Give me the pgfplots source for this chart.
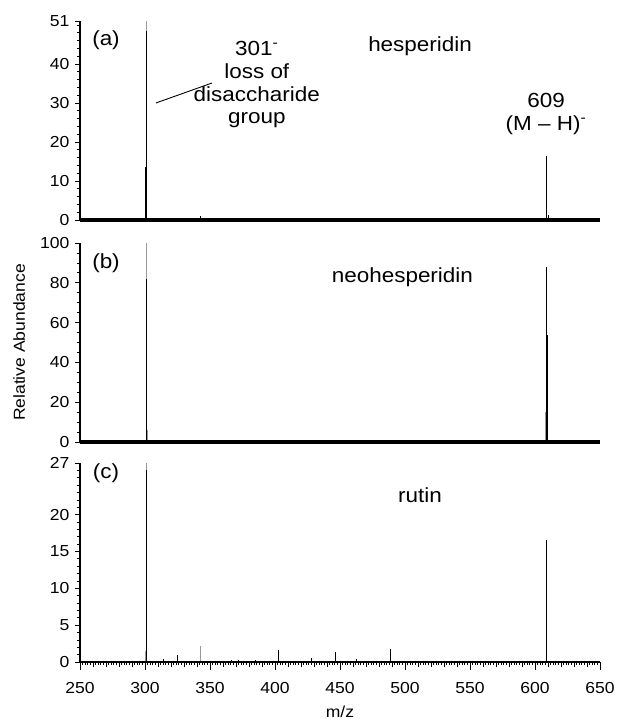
\documentclass[border=0pt]{standalone}
\usepackage{fontspec}
\setmainfont[FakeStretch=1.1]{Liberation Sans}
\usepackage{pgfplots}
\pgfplotsset{compat=1.18}
\pgfplotsset{ms/.style={
  width=520bp, height=199bp, scale only axis,
  xmin=250, xmax=650, ymin=0,
  axis x line*=bottom, axis y line*=left,
  y axis line style={line width=1.1bp, -},
  x axis line style={-},
  tick align=outside,
  major tick length=5bp, minor tick length=3bp,
  every tick/.style={black, line width=0.8bp},
  minor tick style={black, line width=0.7bp},
  clip=false,
  ticklabel style={font=\fontsize{16}{19}\selectfont},
  /pgf/number format/assume math mode=true,
  yticklabel style={xshift=-2bp},
  xticklabel style={yshift=-9bp},
},
stk/.style={ycomb, black, line width=0.9bp, mark=none},
gstk/.style={ycomb, black!40, line width=0.9bp, mark=none},
}
\newcommand{\bigf}{\fontsize{20.5}{23}\selectfont}
\begin{document}
\begin{tikzpicture}
\path[use as bounding box] (-80bp,-62bp) rectangle (537bp,662bp);
% (a) hesperidin
\begin{axis}[ms, at={(0,442bp)}, ymax=51, ytick={0,10,20,30,40,51},
  minor ytick={2,4,...,50}, xtick=\empty]
\addplot[gstk] coordinates {(301,51)};
\addplot[stk] coordinates {(301,48.5) (343,1) (609,16.4) (610,1.2)};
\addplot[stk, line width=1.6bp] coordinates {(300.6,13.5)};
\addplot[black, line width=3.2bp, mark=none, forget plot] coordinates {(250,0) (650,0)};
\node[font=\bigf] at (axis description cs:0.05,0.905) {(a)};
\node[font=\bigf] at (axis description cs:0.654,0.874) {hesperidin};
\node[font=\bigf, align=center] at (axis cs:386,34.7) {301\textsuperscript{-}\\loss of\\disaccharide\\group};
\draw[line width=0.9bp] (axis cs:308.5,30) -- (axis cs:351.5,35.1);
\node[font=\bigf, align=center] at (axis cs:608.5,27.2) {609\\(M -- H)\textsuperscript{-}};
\end{axis}
% (b) neohesperidin
\begin{axis}[ms, at={(0,220bp)}, ymax=100, ytick={0,20,...,100},
  minor ytick={5,10,...,95}, xtick=\empty,
  ylabel={Relative Abundance},
  ylabel style={at={(axis description cs:-0.117,0.5)}, anchor=center, font=\fontsize{16}{19}\selectfont}]
\addplot[gstk] coordinates {(301,100) (302,6) (608.4,15)};
\addplot[stk] coordinates {(301,82) (609,88)};
\addplot[stk, line width=1.6bp] coordinates {(609.3,54)};
\addplot[black, line width=3.2bp, mark=none, forget plot] coordinates {(250,0) (650,0)};
\node[font=\bigf] at (axis description cs:0.05,0.9) {(b)};
\node[font=\bigf] at (axis description cs:0.62,0.83) {neohesperidin};
\end{axis}
% (c) rutin
\begin{axis}[ms, at={(0,0)}, ymax=27, ytick={0,5,10,15,20,27},
  minor ytick={1,2,...,26},
  xtick={250,260,...,650}, xticklabels={},
  minor xtick={252,254,...,648},
  extra x ticks={250,300,...,650},
  extra x tick style={major tick length=8bp},
  xlabel={m/z},
  xlabel style={at={(axis description cs:0.5,-0.251)}, anchor=center, font=\fontsize{16}{19}\selectfont}]
\addplot[gstk] coordinates {(301,27) (300.7,1.5) (343,2.2) (608.6,3.1)};
\addplot[stk] coordinates {(301,26) (282.7,0.2) (314.5,0.37) (325,0.95) (366.5,0.3) (372,0.3) (384.6,0.3) (402.5,1.6) (428,0.6) (446.5,1.34) (462.7,0.37) (488.6,1.7) (590.5,0.2) (609,16.6)};
\addplot[black, line width=2.4bp, mark=none, forget plot] coordinates {(250,0) (650,0)};
\node[font=\bigf] at (axis description cs:0.05,0.95) {(c)};
\node[font=\bigf] at (axis description cs:0.654,0.84) {rutin};
\end{axis}
\end{tikzpicture}
\end{document}
